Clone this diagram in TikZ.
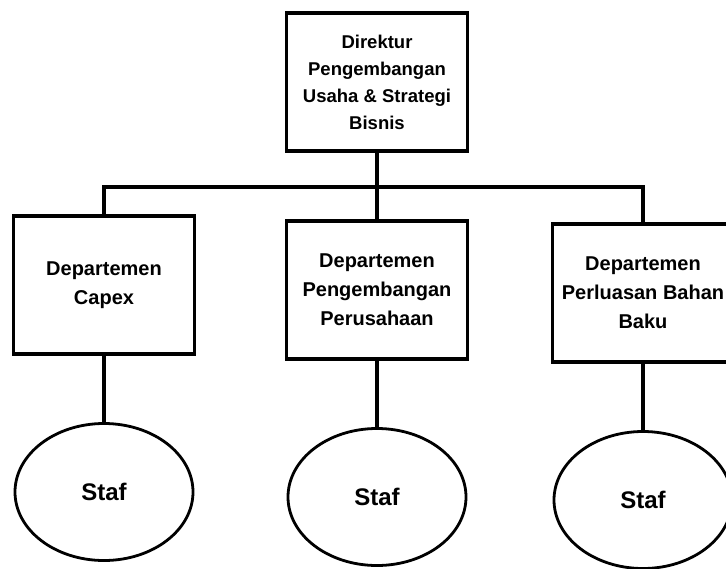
\documentclass[tikz,border=0pt]{standalone}
\usepackage{fontspec}
\setmainfont{Liberation Sans}
\usetikzlibrary{shapes.geometric}
\tikzset{
  jabatan/.style={draw, line width=3.4pt, minimum width=181pt, minimum height=138pt,
    align=center, inner sep=0pt, font=\bfseries\fontsize{20}{29}\selectfont},
  staf/.style={draw, ellipse, line width=2.8pt, minimum width=178pt, minimum height=137pt,
    inner sep=0pt, font=\bfseries\fontsize{24}{28}\selectfont},
  garis/.style={line width=3.4pt}
}
\begin{document}
\begin{tikzpicture}[x=1pt,y=-1pt]
% batas gambar
\useasboundingbox (0,0) rectangle (726,568);
\clip (0,0) rectangle (726,568);
% direktur
\node[jabatan, font=\bfseries\fontsize{18.5}{27}\selectfont] (dir) at (377,82)
  {Direktur\\Pengembangan\\Usaha \& Strategi\\Bisnis};
% departemen dan staf
\foreach \n/\x/\y/\t in {capex/104/285/{Departemen\\Capex},
                         pp/377/290/{Departemen\\Pengembangan\\Perusahaan},
                         pbb/643/293/{Departemen\\Perluasan Bahan\\Baku}}{
  \node[jabatan] (\n) at (\x,\y) {\t};
  \node[staf] (staf-\n) at (\x,\y+207) {Staf};
  \draw[garis] (\n) -- (staf-\n);
}
% garis hubung
\coordinate (bus) at (377,187);
\draw[garis] (dir.south) -- (pp.north);
\draw[garis] (capex.north) |- (bus) -| (pbb.north);
\end{tikzpicture}
\end{document}
